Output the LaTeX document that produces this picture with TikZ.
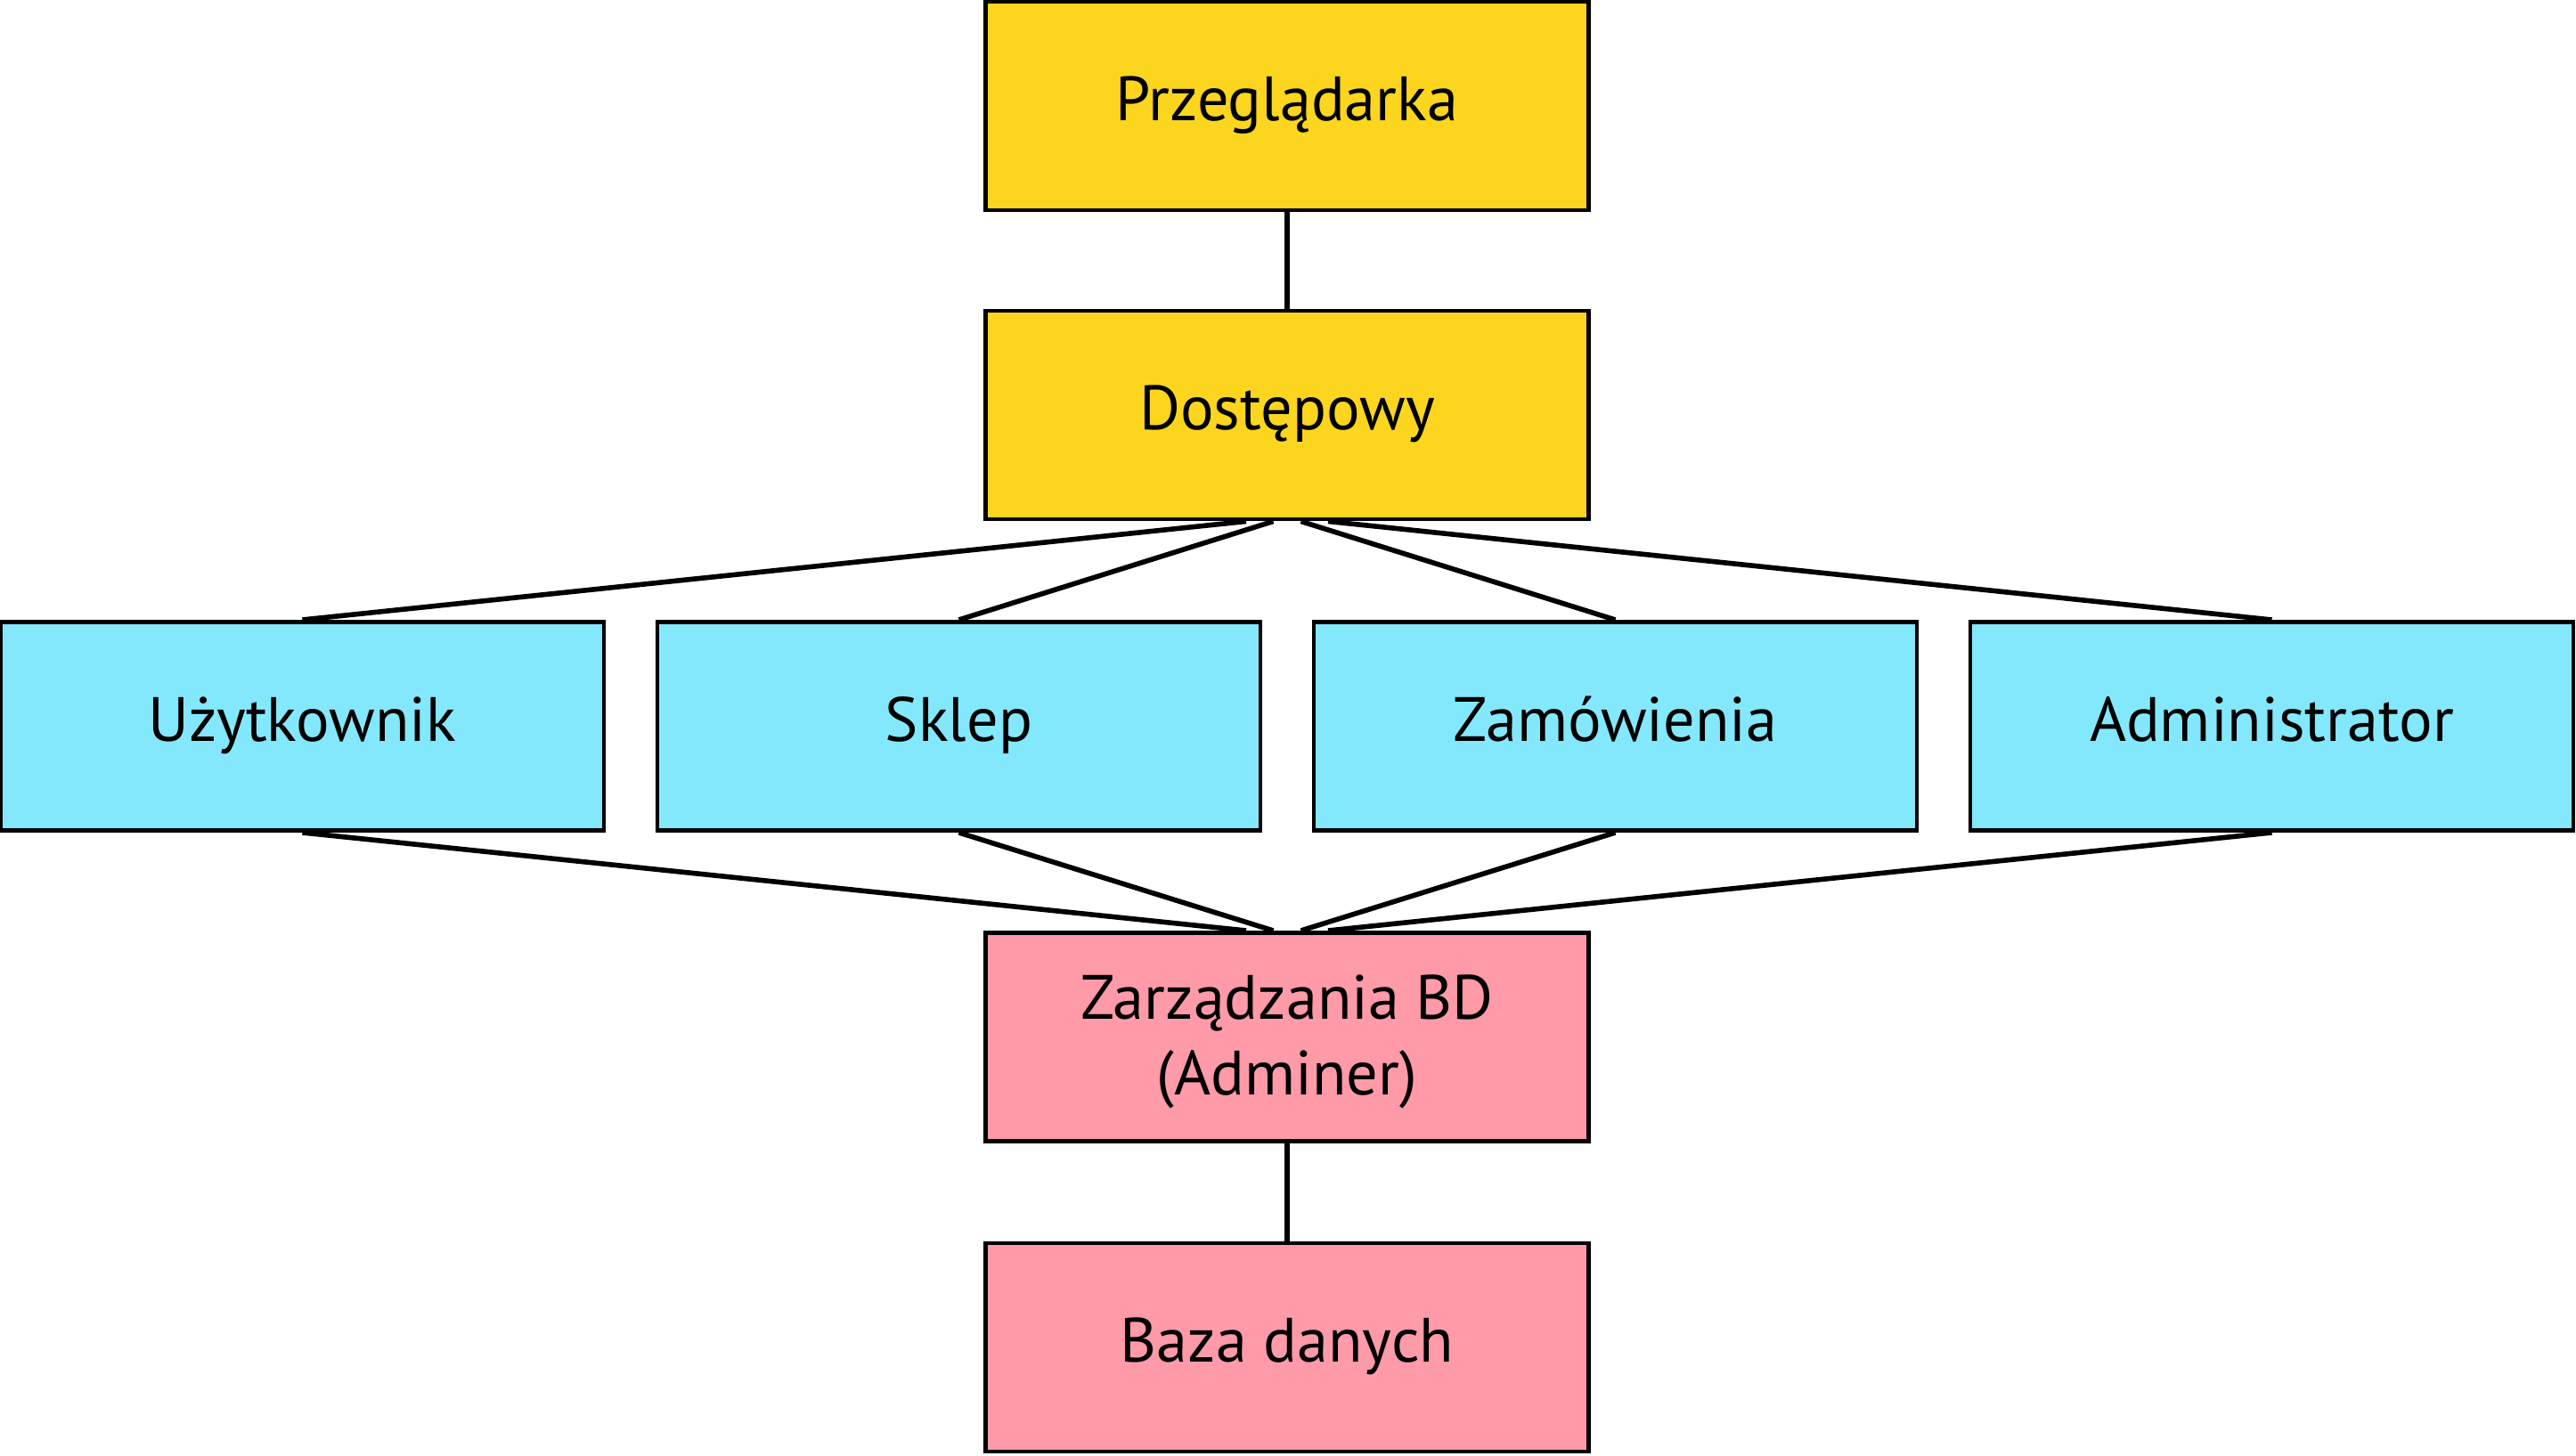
\documentclass[tikz,border=0pt]{standalone}
\usepackage{fontspec}
\setmainfont{PT Sans}
\usetikzlibrary{positioning,calc}
\definecolor{browseryellow}{RGB}{252,213,30}
\definecolor{modulecyan}{RGB}{132,232,253}
\definecolor{dbpink}{RGB}{255,154,168}

\begin{document}
\begin{tikzpicture}[font=\fontsize{20}{24}\selectfont,
 layerbox/.style={draw=black,line width=1.4pt,minimum width=6.77cm,minimum height=2.34cm,inner sep=0pt},
 onebox/.style={layerbox,text height=1.03em,text depth=0.07em},
 link/.style={line width=1.6pt}]
\useasboundingbox (0,0) rectangle (28.92,-16.35);
% top layers
\node[onebox,fill=browseryellow] (przeg) at (14.45,-1.19) {Przeglądarka};
\node[onebox,fill=browseryellow] (dost) at (14.45,-4.66) {Dostępowy};
% modules
\foreach \name/\x/\lab in {uzyt/3.395/Użytkownik, sklep/10.765/Sklep, zam/18.135/Zamówienia, admin/25.505/Administrator}{
  \node[onebox,fill=modulecyan] (\name) at (\x,-8.155) {\lab};
}
% database layers
\node[layerbox,fill=dbpink,align=center] (zarz) at (14.45,-11.645) {\rule{0pt}{0.86em}Zarządzania BD\\(Adminer)};
\node[onebox,fill=dbpink] (baza) at (14.45,-15.13) {Baza danych};
\draw[link] (przeg.south) -- (dost.north);
\draw[link] (zarz.south) -- (baza.north);
\foreach \name/\dx in {uzyt/-0.46, sklep/-0.155, zam/0.155, admin/0.46}{
  \draw[link] ([xshift=\dx cm]dost.south) -- (\name.north);
  \draw[link] (\name.south) -- ([xshift=\dx cm]zarz.north);
}
\end{tikzpicture}
\end{document}
